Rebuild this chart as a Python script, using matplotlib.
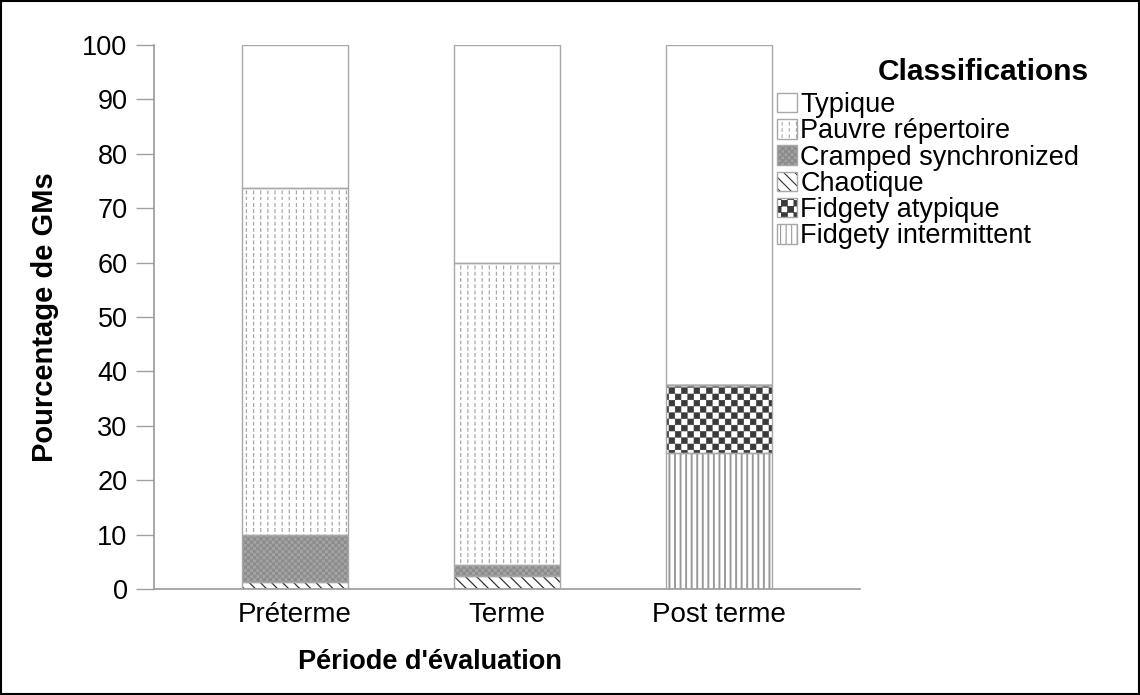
import warnings
import numpy as np
import matplotlib
matplotlib.use("Agg")
import matplotlib.pyplot as plt
import matplotlib.hatch as mhatch
from matplotlib.path import Path
from matplotlib.patches import Patch, Rectangle

warnings.filterwarnings("ignore")

# ---------------- data ----------------
periods = ["Préterme", "Terme", "Post terme"]
classes = ["Typique", "Pauvre répertoire", "Cramped synchronized",
           "Chaotique", "Fidgety atypique", "Fidgety intermittent"]
# stacking order bottom -> top
fidgety_intermittent = [0.0, 0.0, 25.0]
fidgety_atypique = [0.0, 0.0, 12.5]
chaotique = [1.25, 2.3, 0.0]
cramped = [8.75, 2.2, 0.0]
pauvre = [63.75, 55.5, 0.0]
typique = [26.25, 40.0, 62.5]
yticks = [0, 10, 20, 30, 40, 50, 60, 70, 80, 90, 100]


# ---------------- custom hatches ----------------
class Checker(mhatch.HatchPatternBase):
    """filled checkerboard: 'c' -> 16 cells per unit, 'cc' -> 32"""
    def __init__(self, hatch, density):
        self.n = 16 * hatch.count('c')
        self.num_vertices = (self.n * self.n // 2) * 5

    def set_vertices_and_codes(self, vertices, codes):
        n = self.n
        s = 1.0 / n
        sh = 0.003
        parts = []
        for i in range(n):
            for j in range(n):
                if (i + j) % 2 == 0:
                    x0, y0 = i * s + sh, j * s + sh
                    x1, y1 = (i + 1) * s - sh, (j + 1) * s - sh
                    parts.append([[x0, y0], [x1, y0], [x1, y1], [x0, y1], [x0, y0]])
        vertices[:] = np.array(parts, dtype=float).reshape(-1, 2)
        codes[:] = np.tile([Path.MOVETO, Path.LINETO, Path.LINETO,
                            Path.LINETO, Path.CLOSEPOLY], len(parts))


class DashCols(mhatch.HatchPatternBase):
    """short vertical dashes arranged in columns: 'p'"""
    def __init__(self, hatch, density):
        self.ncol = 14 if 'p' in hatch else 0
        self.nrow = 16 if 'p' in hatch else 0
        self.num_vertices = self.ncol * self.nrow * 2

    def set_vertices_and_codes(self, vertices, codes):
        verts = []
        for i in range(self.ncol):
            x = (i + 0.5) / self.ncol
            for j in range(self.nrow):
                y0 = j / self.nrow
                verts.append([x, y0])
                verts.append([x, y0 + 0.42 / self.nrow])
        vertices[:] = np.array(verts, dtype=float)
        codes[:] = np.tile([Path.MOVETO, Path.LINETO], self.ncol * self.nrow)


mhatch._hatch_types.extend([Checker, DashCols])

plt.rcParams['font.family'] = ['Liberation Sans', 'DejaVu Sans']
plt.rcParams['hatch.linewidth'] = 0.8

# style per class: (facecolor, hatchcolor, hatch, hatch linewidth)
styles = {
    "Typique": ("white", "white", None, 0.8),
    "Pauvre répertoire": ("white", "#a8a8a8", "p", 0.9),
    "Cramped synchronized": ("#a4a4a4", "#8c8c8c", "cc", 0.5),
    "Chaotique": ("white", "#333333", "\\\\\\", 0.9),
    "Fidgety atypique": ("white", "#3a3a3a", "c", 0.5),
    "Fidgety intermittent": ("white", "#999999", "|||", 1.4),
}
edge = "#a8a8a8"


def make_patch_kwargs(name):
    fc, hc, h, hlw = styles[name]
    return dict(facecolor=fc, edgecolor=hc, hatch=h, linewidth=0), hlw


def apply_hlw(artists, hlw):
    for a in artists:
        if hasattr(a, "set_hatch_linewidth"):
            a.set_hatch_linewidth(hlw)


fig = plt.figure(figsize=(11.4, 6.95), dpi=100)
ax = fig.add_axes([154 / 1140, 1 - 589 / 695, (860 - 154) / 1140, (589 - 45) / 695])

x = np.arange(len(periods))
stack = [("Fidgety intermittent", fidgety_intermittent),
         ("Fidgety atypique", fidgety_atypique),
         ("Chaotique", chaotique),
         ("Cramped synchronized", cramped),
         ("Pauvre répertoire", pauvre),
         ("Typique", typique)]
bottom = np.zeros(len(periods))
for name, vals in stack:
    vals = np.array(vals)
    kw, hlw = make_patch_kwargs(name)
    with plt.rc_context({'hatch.linewidth': hlw}):
        bars = ax.bar(x, vals, width=0.5, bottom=bottom, zorder=2, **kw)
    apply_hlw(bars, hlw)
    ax.bar(x, vals, width=0.5, bottom=bottom, fill=False, edgecolor=edge,
           linewidth=1.0, zorder=3)
    bottom = bottom + vals

ax.set_xlim(-0.665, 2.665)
ax.set_ylim(0, 100)
ax.set_yticks(yticks)
ax.set_xticks(x)
ax.set_xticklabels(periods)
ax.tick_params(axis='y', length=13, width=1.0, color="#a0a0a0", pad=6, labelsize=19.5)
ax.tick_params(axis='x', length=0, pad=9, labelsize=20)
for s in ["top", "right"]:
    ax.spines[s].set_visible(False)
ax.spines["left"].set_color("#9a9a9a")
ax.spines["left"].set_linewidth(1.2)
ax.spines["bottom"].set_color("#9a9a9a")
ax.spines["bottom"].set_linewidth(1.2)

ax.set_ylabel("Pourcentage de GMs", fontsize=21, fontweight="bold")
ax.yaxis.set_label_coords((45 - 154) / 706, 0.5)
ax.set_xlabel("Période d'évaluation", fontsize=19.5, fontweight="bold")
ax.xaxis.set_label_coords((430 - 154) / 706, (589 - 662) / 544)
ax.xaxis.label.set_va("center")
ax.yaxis.label.set_va("center")

# legend
handles = []
for name in classes:
    kw, hlw = make_patch_kwargs(name)
    with plt.rc_context({'hatch.linewidth': hlw}):
        p1 = Patch(**kw)
    apply_hlw([p1], hlw)
    p2 = Patch(fill=False, edgecolor=edge, linewidth=1.0)
    handles.append((p1, p2))
leg = fig.legend(handles, classes, loc="upper left",
                 bbox_to_anchor=(777 / 1140, 1 - 92 / 695),
                 frameon=False, fontsize=19.5, handlelength=0.74,
                 handleheight=0.74, handletextpad=0.12, labelspacing=0.01,
                 borderpad=0, borderaxespad=0)
fig.text(983 / 1140, 1 - 72 / 695, "Classifications", fontsize=21.5,
         fontweight="bold", ha="center", va="center")

# figure border
fig.patches.append(Rectangle((0.001, 0.0015), 0.998, 0.997, transform=fig.transFigure,
                             fill=False, edgecolor="black", linewidth=1.5))

fig.savefig("out.png", dpi=100)
